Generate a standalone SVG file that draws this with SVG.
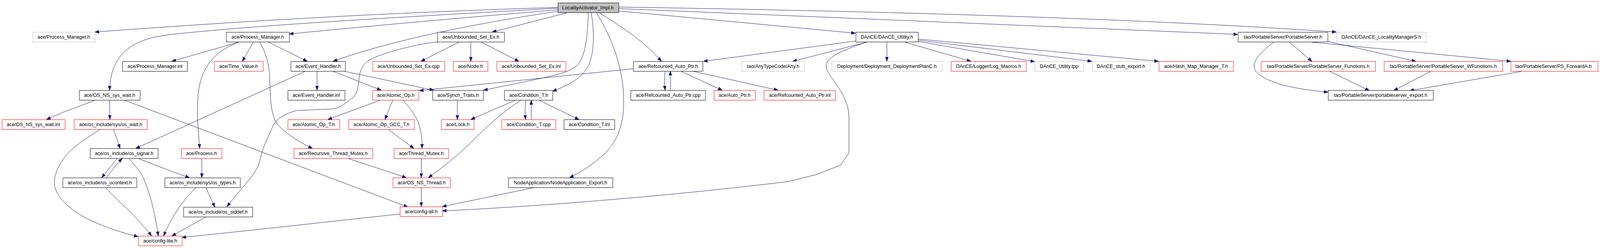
<svg xmlns="http://www.w3.org/2000/svg" width="4265" height="635" viewBox="0 0 4265 635">
<style>
rect{fill:#fff;stroke:#000;stroke-width:1}
.r rect{stroke:#f00}
.g rect{stroke:#bfbfbf}
.root rect{fill:#bfbfbf}
text{font-family:"Liberation Sans",Arial,Helvetica,sans-serif;font-size:13px;text-anchor:middle;fill:#000}
#edges path{fill:none;stroke:#191970;stroke-width:1;marker-end:url(#a)}
</style>
<defs>
<marker id="a" markerWidth="12" markerHeight="9" refX="11" refY="4.5" orient="auto" markerUnits="userSpaceOnUse">
<path d="M0,0.5 L11,4.5 L0,8.5 z" fill="#191970" stroke="#191970" stroke-width="1"/>
</marker>
</defs>
<rect x="0" y="0" width="4265" height="635" style="fill:#fff;stroke:none"/>
<g id="graph" transform="scale(0.9604,1)">
<g id="edges">
<path d="M1487,19 C1100,30 700,50 253,82"/>
<path d="M1487,21 C1150,40 700,62 450,89 C350,100 295,140 292,231"/>
<path d="M1487,25 C1300,40 1000,65 771,87"/>
<path d="M1487,29 C1300,55 1050,100 888,157"/>
<path d="M1511,33 L1312,82"/>
<path d="M1568,33 C1566,100 1560,150 1535,170 C1515,185 1490,190 1450,199 L1289,231"/>
<path d="M1576,33 C1584,80 1585,130 1570,165 C1555,195 1530,212 1473,234"/>
<path d="M1590,33 C1620,80 1650,140 1660,217 C1665,270 1663,300 1650,337 C1635,380 1590,420 1518,455"/>
<path d="M1598,33 C1645,62 1712,100 1763,157"/>
<path d="M1649,28 L2280,85"/>
<path d="M1649,22 L3299,88"/>
<path d="M1649,18 C2300,28 3000,45 3562,82"/>
<path d="M636,108 L458,157"/>
<path d="M636,108 C575,130 535,170 528,243 C523,300 530,340 532,380"/>
<path d="M675,108 L646,157"/>
<path d="M692,108 C710,135 718,170 719,200 C721,260 722,305 746,325 C770,347 800,365 833,380"/>
<path d="M716,108 L819,157"/>
<path d="M1223,108 L1122,157"/>
<path d="M1255,108 L1255,157"/>
<path d="M1283,108 L1383,157"/>
<path d="M1166,107 C1100,115 1020,135 984,154 C960,170 960,185 957,202 C955,225 950,245 938,251 C915,270 900,279 883,279 L792,283 C760,290 735,305 727,324 C715,350 705,370 700,384 C695,400 692,415 688,425 C675,450 660,465 642,485 L605,529"/>
<path d="M845,182 L845,231"/>
<path d="M886,182 L1016,231"/>
<path d="M915,182 L1156,231"/>
<path d="M815,182 L362,380"/>
<path d="M1773,182 C1771,200 1771,215 1773,231"/>
<path d="M1787,231 L1787,182"/>
<path d="M1814,182 L1925,231"/>
<path d="M1845,182 L2074,231"/>
<path d="M1688,176 L1118,232"/>
<path d="M2281,105 L1875,157"/>
<path d="M2310,108 L2113,157"/>
<path d="M2364,108 L2364,157"/>
<path d="M2412,108 L2588,157"/>
<path d="M2447,106 L2758,158"/>
<path d="M2447,103 L2910,157"/>
<path d="M2447,100 L3088,157"/>
<path d="M2310,108 C2240,130 2195,150 2203,175 C2210,200 2262,240 2263,300 L2263,392 L2240,423 L2176,447 L2100,465 C1800,500 1450,528 1179,540"/>
<path d="M3437,108 L3497,157"/>
<path d="M3395,108 C3370,125 3345,150 3343,167 C3342,185 3360,200 3417,217 C3460,228 3500,232 3540,236"/>
<path d="M3539,106 L3774,157"/>
<path d="M3497,108 L4027,157"/>
<path d="M3543,182 L3650,232"/>
<path d="M3815,182 L3715,232"/>
<path d="M4061,182 L3758,232"/>
<path d="M254,256 C220,270 170,285 124,306"/>
<path d="M292,256 L293,306"/>
<path d="M330,256 L1087,530"/>
<path d="M302,331 C310,350 315,365 320,380"/>
<path d="M268,331 C220,360 180,385 160,420 C140,455 140,480 160,505 C190,545 260,580 368,606"/>
<path d="M312,406 L271,455"/>
<path d="M284,455 C300,435 310,420 326,406"/>
<path d="M369,406 C420,425 460,440 505,455"/>
<path d="M344,406 C365,430 380,445 388,470 C405,510 415,560 422,604"/>
<path d="M281,480 C320,520 370,560 404,604"/>
<path d="M523,480 C490,510 460,550 436,604"/>
<path d="M549,480 C555,495 565,515 573,530"/>
<path d="M538,406 L538,455"/>
<path d="M550,555 L458,604"/>
<path d="M1066,548 C900,565 700,587 485,608"/>
<path d="M1015,256 L874,306"/>
<path d="M1047,256 L1026,306"/>
<path d="M1074,256 C1100,285 1115,305 1120,330 C1125,350 1125,365 1125,380"/>
<path d="M1035,331 L1103,380"/>
<path d="M1219,256 L1219,306"/>
<path d="M1373,257 L1255,306"/>
<path d="M1388,257 C1350,280 1300,320 1250,370 C1200,415 1170,435 1142,455"/>
<path d="M1402,257 C1399,275 1399,290 1401,306"/>
<path d="M1416,306 L1416,257"/>
<path d="M1438,257 L1543,306"/>
<path d="M929,406 L1083,455"/>
<path d="M1123,406 L1123,455"/>
<path d="M1123,480 L1123,529"/>
<path d="M1425,480 L1179,529"/>
</g>
<g id="n0" class="root"><rect x="1487.5" y="7.5" width="162" height="25"/><text x="1567" y="24.5">LocalityActivator_Impl.h</text></g>
<g id="n1" class="g"><rect x="87.5" y="82.5" width="166" height="25"/><text x="170" y="99.5">ace/Process_Manager.h</text></g>
<g id="n2"><rect x="603.5" y="82.5" width="168" height="25"/><text x="687" y="99.5">ace/Process_Manager.h</text></g>
<g id="n3"><rect x="1166.5" y="82.5" width="178" height="25"/><text x="1255" y="99.5">ace/Unbounded_Set_Ex.h</text></g>
<g id="n4"><rect x="2281.5" y="82.5" width="166" height="25"/><text x="2364" y="99.5">DAnCE/DAnCE_Utility.h</text></g>
<g id="n5"><rect x="3300.5" y="82.5" width="239" height="25"/><text x="3420" y="99.5">tao/PortableServer/PortableServer.h</text></g>
<g id="n6" class="g"><rect x="3562.5" y="82.5" width="239" height="25"/><text x="3682" y="99.5">DAnCE/DAnCE_LocalityManagerS.h</text></g>
<g id="n7"><rect x="326.5" y="157.5" width="173" height="25"/><text x="413" y="174.5">ace/Process_Manager.inl</text></g>
<g id="n8" class="r"><rect x="571.5" y="157.5" width="130" height="25"/><text x="636" y="174.5">ace/Time_Value.h</text></g>
<g id="n9"><rect x="775.5" y="157.5" width="145" height="25"/><text x="848" y="174.5">ace/Event_Handler.h</text></g>
<g id="n10" class="r"><rect x="993.5" y="157.5" width="192" height="25"/><text x="1089" y="174.5">ace/Unbounded_Set_Ex.cpp</text></g>
<g id="n11" class="r"><rect x="1208.5" y="157.5" width="92" height="25"/><text x="1254" y="174.5">ace/Node.h</text></g>
<g id="n12" class="r"><rect x="1324.5" y="157.5" width="184" height="25"/><text x="1416" y="174.5">ace/Unbounded_Set_Ex.inl</text></g>
<g id="n13"><rect x="1688.5" y="157.5" width="185" height="25"/><text x="1781" y="174.5">ace/Refcounted_Auto_Ptr.h</text></g>
<g id="n14" class="g"><rect x="1977.5" y="157.5" width="167" height="25"/><text x="2061" y="174.5">tao/AnyTypeCode/Any.h</text></g>
<g id="n15" class="g"><rect x="2217.5" y="157.5" width="294" height="25"/><text x="2364" y="174.5">Deployment/Deployment_DeploymentPlanC.h</text></g>
<g id="n16" class="r"><rect x="2535.5" y="157.5" width="200" height="25"/><text x="2635" y="174.5">DAnCE/Logger/Log_Macros.h</text></g>
<g id="n17" class="g"><rect x="2758.5" y="157.5" width="129" height="25"/><text x="2823" y="174.5">DAnCE_Utility.tpp</text></g>
<g id="n18" class="g"><rect x="2911.5" y="157.5" width="154" height="25"/><text x="2988" y="174.5">DAnCE_stub_export.h</text></g>
<g id="n19" class="r"><rect x="3089.5" y="157.5" width="198" height="25"/><text x="3188" y="174.5">ace/Hash_Map_Manager_T.h</text></g>
<g id="n20" class="r"><rect x="3361.5" y="157.5" width="305" height="25"/><text x="3514" y="174.5">tao/PortableServer/PortableServer_Functions.h</text></g>
<g id="n21" class="r"><rect x="3689.5" y="157.5" width="316" height="25"/><text x="3847" y="174.5">tao/PortableServer/PortableServer_WFunctions.h</text></g>
<g id="n22" class="r"><rect x="4027.5" y="157.5" width="232" height="25"/><text x="4141" y="174.5">tao/PortableServer/PS_ForwardA.h</text></g>
<g id="n23"><rect x="211.5" y="231.5" width="162" height="25"/><text x="292" y="248.5">ace/OS_NS_sys_wait.h</text></g>
<g id="n24"><rect x="767.5" y="231.5" width="152" height="25"/><text x="843" y="248.5">ace/Event_Handler.inl</text></g>
<g id="n25" class="r"><rect x="993.5" y="231.5" width="123" height="25"/><text x="1055" y="248.5">ace/Atomic_Op.h</text></g>
<g id="n26"><rect x="1153.5" y="231.5" width="135" height="25"/><text x="1221" y="248.5">ace/Synch_Traits.h</text></g>
<g id="n27"><rect x="1344.5" y="231.5" width="129" height="25"/><text x="1409" y="248.5">ace/Condition_T.h</text></g>
<g id="n28"><rect x="1681.5" y="231.5" width="199" height="25"/><text x="1781" y="248.5">ace/Refcounted_Auto_Ptr.cpp</text></g>
<g id="n29" class="r"><rect x="1903.5" y="231.5" width="110" height="25"/><text x="1958" y="248.5">ace/Auto_Ptr.h</text></g>
<g id="n30" class="r"><rect x="2036.5" y="231.5" width="191" height="25"/><text x="2132" y="248.5">ace/Refcounted_Auto_Ptr.inl</text></g>
<g id="n31"><rect x="3540.5" y="231.5" width="280" height="25"/><text x="3680" y="248.5">tao/PortableServer/portableserver_export.h</text></g>
<g id="n32" class="r"><rect x="5.5" y="306.5" width="168" height="25"/><text x="89" y="323.5">ace/OS_NS_sys_wait.inl</text></g>
<g id="n33" class="r"><rect x="197.5" y="306.5" width="195" height="25"/><text x="295" y="323.5">ace/os_include/sys/os_wait.h</text></g>
<g id="n34" class="r"><rect x="767.5" y="306.5" width="138" height="25"/><text x="836" y="323.5">ace/Atomic_Op_T.h</text></g>
<g id="n35" class="r"><rect x="929.5" y="306.5" width="175" height="25"/><text x="1017" y="323.5">ace/Atomic_Op_GCC_T.h</text></g>
<g id="n36" class="r"><rect x="1176.5" y="306.5" width="87" height="25"/><text x="1220" y="323.5">ace/Lock.h</text></g>
<g id="n37" class="r"><rect x="1337.5" y="306.5" width="144" height="25"/><text x="1409" y="323.5">ace/Condition_T.cpp</text></g>
<g id="n38"><rect x="1503.5" y="306.5" width="135" height="25"/><text x="1571" y="323.5">ace/Condition_T.inl</text></g>
<g id="n39"><rect x="240.5" y="380.5" width="181" height="25"/><text x="331" y="397.5">ace/os_include/os_signal.h</text></g>
<g id="n40" class="r"><rect x="483.5" y="380.5" width="108" height="25"/><text x="537" y="397.5">ace/Process.h</text></g>
<g id="n41" class="r"><rect x="783.5" y="380.5" width="210" height="25"/><text x="888" y="397.5">ace/Recursive_Thread_Mutex.h</text></g>
<g id="n42" class="r"><rect x="1050.5" y="380.5" width="145" height="25"/><text x="1123" y="397.5">ace/Thread_Mutex.h</text></g>
<g id="n43"><rect x="167.5" y="455.5" width="197" height="25"/><text x="266" y="472.5">ace/os_include/os_ucontext.h</text></g>
<g id="n44"><rect x="439.5" y="455.5" width="201" height="25"/><text x="540" y="472.5">ace/os_include/sys/os_types.h</text></g>
<g id="n45" class="r"><rect x="1047.5" y="455.5" width="153" height="25"/><text x="1124" y="472.5">ace/OS_NS_Thread.h</text></g>
<g id="n46"><rect x="1355.5" y="455.5" width="278" height="25"/><text x="1494" y="472.5">NodeApplication/NodeApplication_Export.h</text></g>
<g id="n47"><rect x="489.5" y="530.5" width="184" height="25"/><text x="581" y="547.5">ace/os_include/os_stddef.h</text></g>
<g id="n48" class="r"><rect x="1066.5" y="529.5" width="113" height="25"/><text x="1123" y="546.5">ace/config-all.h</text></g>
<g id="n49" class="r"><rect x="369.5" y="604.5" width="116" height="25"/><text x="427" y="621.5">ace/config-lite.h</text></g>
</g>
</svg>
